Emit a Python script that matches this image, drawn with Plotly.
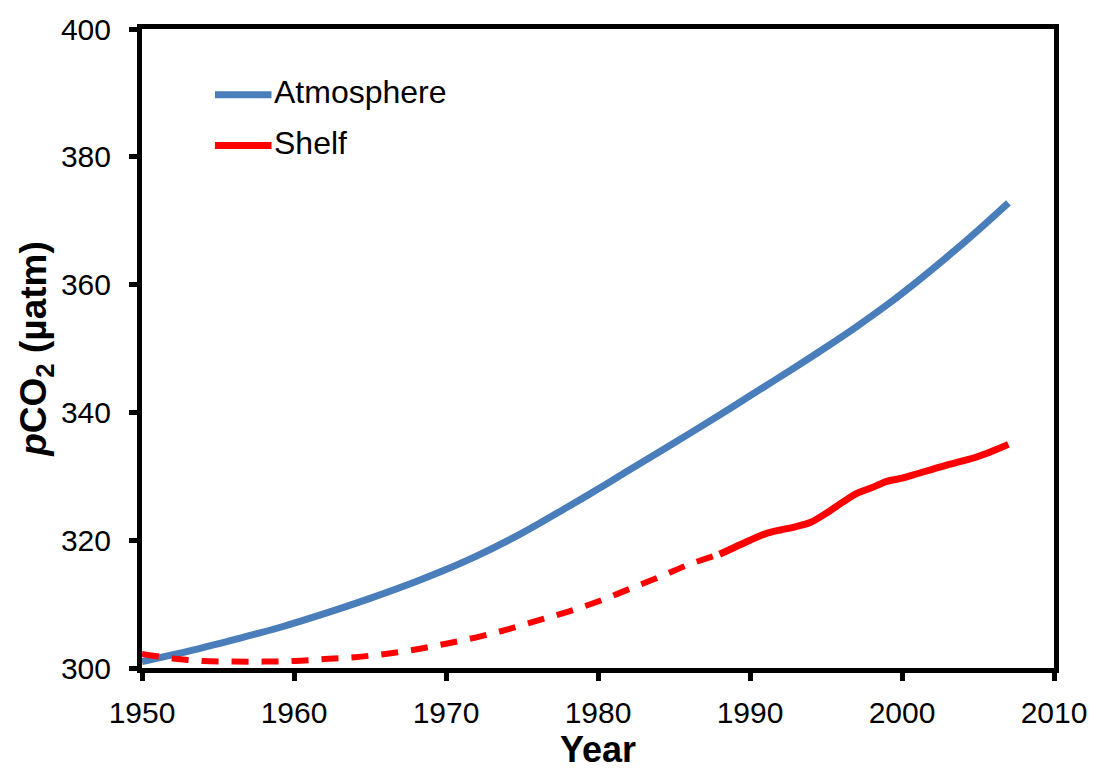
import plotly.graph_objects as go

# Atmospheric pCO2 (µatm)
years_atm = [1950, 1953, 1956, 1959, 1962, 1965, 1968, 1970, 1972, 1975, 1978,
             1980, 1982, 1985, 1988, 1990, 1993, 1995, 1997, 1999, 2001, 2003,
             2005, 2007]
atm = [301.0, 302.6, 304.4, 306.3, 308.5, 310.9, 313.5, 315.4, 317.5, 321.1,
       325.2, 328.0, 330.9, 335.2, 339.6, 342.6, 347.1, 350.2, 353.4, 356.8,
       360.5, 364.4, 368.5, 372.8]

# Shelf pCO2, reconstructed period (dashed)
years_shelf_est = [1950, 1952, 1954, 1956, 1958, 1960, 1962, 1964, 1966, 1968,
                   1970, 1972, 1974, 1976, 1978, 1980, 1982, 1984, 1986, 1988]
shelf_est = [302.2, 301.5, 301.1, 301.0, 301.0, 301.1, 301.4, 301.7, 302.2,
             302.9, 303.8, 304.8, 306.0, 307.4, 308.8, 310.4, 312.3, 314.2,
             316.2, 317.8]

# Shelf pCO2, observed period (solid)
years_shelf_obs = [1988, 1989, 1990, 1991, 1992, 1993, 1994, 1995, 1996, 1997,
                   1998, 1999, 2000, 2001, 2002, 2003, 2004, 2005, 2006, 2007]
shelf_obs = [317.8, 318.9, 320.0, 321.0, 321.6, 322.1, 322.8, 324.2, 325.8,
             327.3, 328.2, 329.2, 329.7, 330.4, 331.1, 331.8, 332.4, 333.1,
             334.0, 335.0]

x_ticks = [1950, 1960, 1970, 1980, 1990, 2000, 2010]
y_ticks = [300, 320, 340, 360, 380, 400]

BLUE = "#4A7EBB"
RED = "#FF0000"
FONT = "Liberation Sans, Arial, sans-serif"

fig = go.Figure()
fig.add_trace(go.Scatter(
    x=years_atm, y=atm, mode="lines", name="Atmosphere",
    line=dict(color=BLUE, width=7, shape="spline", smoothing=1.0),
))
fig.add_trace(go.Scatter(
    x=years_shelf_est, y=shelf_est, mode="lines", name="Shelf (reconstructed)",
    line=dict(color=RED, width=6, dash="17px,13px", shape="spline", smoothing=1.0),
))
fig.add_trace(go.Scatter(
    x=years_shelf_obs, y=shelf_obs, mode="lines", name="Shelf",
    line=dict(color=RED, width=7, shape="spline", smoothing=0.8),
))

axis_common = dict(
    showgrid=False, zeroline=False,
    showline=True, linewidth=5, linecolor="black", mirror=True,
    ticks="outside", ticklen=8, tickwidth=5, tickcolor="black",
    tickfont=dict(family=FONT, size=30, color="black"),
)

fig.update_xaxes(
    range=[1950, 2010], tickvals=x_ticks, ticktext=[str(v) for v in x_ticks],
    ticklabelstandoff=6,
    title=dict(text="<b>Year</b>", font=dict(family=FONT, size=36, color="black"),
               standoff=8),
    **axis_common,
)
fig.update_yaxes(
    range=[300, 400], tickvals=y_ticks, ticktext=[str(v) for v in y_ticks],
    ticklabelstandoff=12,
    title=dict(text="<b><i>p</i>CO<sub>2</sub> (µatm)</b>",
               font=dict(family=FONT, size=37, color="black"), standoff=4),
    **axis_common,
)

# Legend drawn as line samples with labels in the upper-left corner
legend_items = [("Atmosphere", BLUE, 0.897), ("Shelf", RED, 0.8175)]
for label, color, yp in legend_items:
    fig.add_shape(type="line", xref="paper", yref="paper",
                  x0=0.080, x1=0.142, y0=yp, y1=yp,
                  line=dict(color=color, width=7))
    fig.add_annotation(x=0.143, y=yp, xref="paper", yref="paper",
                       text=label, showarrow=False, xanchor="left",
                       yanchor="middle", yshift=3,
                       font=dict(family=FONT, size=32, color="black"))

fig.update_layout(
    width=1099, height=775,
    margin=dict(l=142, r=44, t=27, b=107),
    plot_bgcolor="white", paper_bgcolor="white",
    showlegend=False,
)

fig.write_html("out.html")
